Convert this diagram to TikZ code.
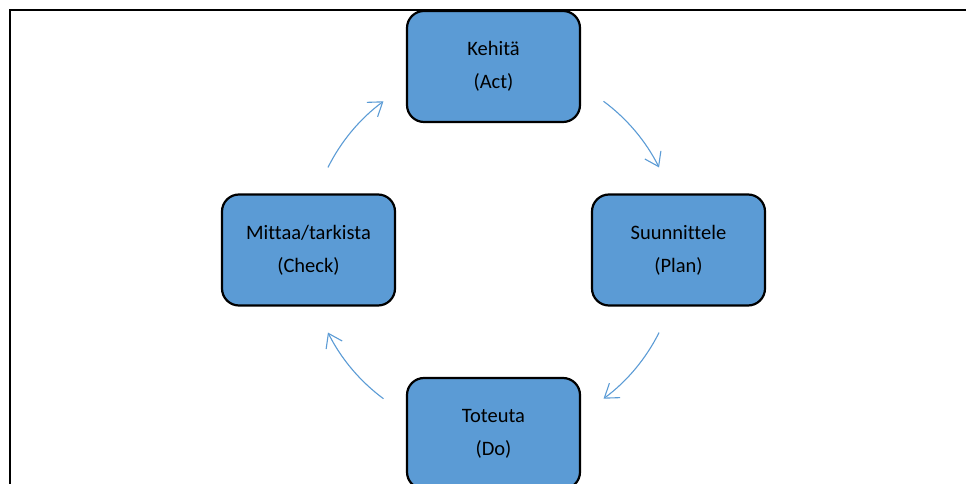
\documentclass[tikz,border=0pt]{standalone}
\usepackage{fontspec}
\setmainfont[Ligatures=NoCommon]{Carlito}
\usetikzlibrary{arrows.meta,calc}
\definecolor{boxblue}{HTML}{5B9BD5}
\definecolor{arrowblue}{HTML}{5B9BD5}
\tikzset{
  stagebox/.style={draw=black, line width=2.2pt, fill=boxblue, rounded corners=17pt,
    minimum width=173pt, minimum height=111pt, align=center,
    font=\fontsize{20.5}{33}\selectfont, inner sep=0pt},
  cycarrow/.style={draw=arrowblue, line width=1.1pt,
    -{Straight Barb[length=13pt,width=18pt,line width=1.1pt]}},
  frameline/.style={draw=black, line width=2.2pt}
}
\begin{document}
\begin{tikzpicture}[x=1pt,y=1pt]
\useasboundingbox (0,0) rectangle (966,484);
\clip (0,0) rectangle (966,484);
% frame
\coordinate (fbl) at (10,-5);
\coordinate (ftl) at (10,474);
\coordinate (ftr) at (970,474);
\draw[frameline] (fbl) -- (ftl) -- (ftr);
% boxes
\node[stagebox] (act) at (493.5,417.5) {Kehitä\\(Act)};
\node[stagebox] (plan) at (678.5,234) {Suunnittele\\(Plan)};
\node[stagebox] (check) at (308.5,234) {Mittaa/tarkista\\(Check)};
\node[stagebox] (do) at (493.5,50.5) {Toteuta\\(Do)};
% cycle arrows
\coordinate (c) at (493.5,234);
\draw[cycarrow] ($(c)+(53.5:185)$) arc[start angle=53.5, end angle=26.5, radius=185];
\draw[cycarrow] ($(c)+(-26.5:185)$) arc[start angle=-26.5, end angle=-53.5, radius=185];
\draw[cycarrow] ($(c)+(233.5:185)$) arc[start angle=233.5, end angle=206.5, radius=185];
\draw[cycarrow] ($(c)+(153.5:185)$) arc[start angle=153.5, end angle=126.5, radius=185];
\end{tikzpicture}
\end{document}
